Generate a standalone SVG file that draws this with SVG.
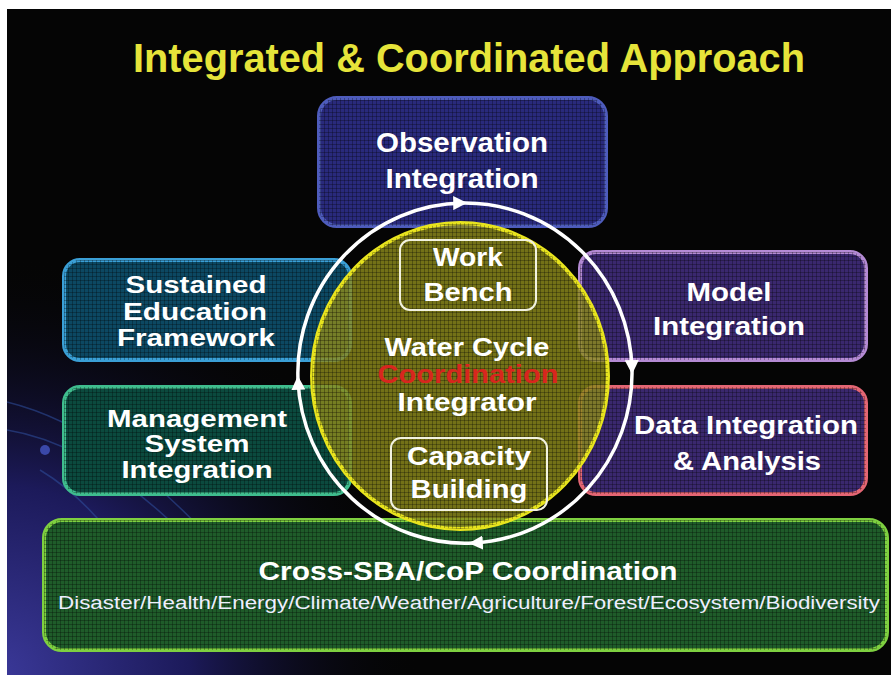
<svg xmlns="http://www.w3.org/2000/svg" width="891" height="675" viewBox="0 0 891 675">
<defs>
<style>
.t{font-family:"Liberation Sans",Arial,sans-serif;font-weight:bold;fill:#fff;text-anchor:middle;}
.box{stroke-width:4;}
.grid{fill:url(#grid);}
.inner{fill:none;stroke:#f2f2e0;stroke-width:2;}
.ring{fill:none;stroke:#fff;stroke-width:3.5;}
</style>
<radialGradient id="glow" cx="0" cy="675" r="420" gradientUnits="userSpaceOnUse">
<stop offset="0" stop-color="#3a3898"/>
<stop offset="0.45" stop-color="#1c1a5a"/>
<stop offset="1" stop-color="#050505" stop-opacity="0"/>
</radialGradient>
<pattern id="grid" width="4" height="4" patternUnits="userSpaceOnUse">
<path d="M0 0.5H4M0.5 0V4" stroke="#000" stroke-opacity="0.28" stroke-width="1"/>
</pattern>
<marker id="arr" viewBox="0 0 10 10" refX="7" refY="5" markerWidth="14" markerHeight="14" markerUnits="userSpaceOnUse" orient="auto">
<path d="M0,0 L10,5 L0,10 z" fill="#fff"/>
</marker>
</defs>
<rect width="891" height="675" fill="#fff"/>
<rect x="7" y="9" width="884" height="666" fill="#050505"/>
<rect x="7" y="9" width="884" height="666" fill="url(#glow)"/>
<g fill="none" stroke="#3050a0" stroke-opacity="0.55" stroke-width="1.5">
<path d="M7,402 C80,420 150,470 230,560"/>
<path d="M7,430 C70,440 130,480 190,540"/>
<path d="M40,470 C90,500 140,560 170,640"/>
</g>
<circle cx="45" cy="450" r="5" fill="#3a48a8"/>
<text class="t" x="469" y="72" font-size="40" textLength="672" lengthAdjust="spacingAndGlyphs" style="fill:#e6e43a">Integrated &amp; Coordinated Approach</text>

<g id="observation">
<rect class="box" x="319" y="98" width="287" height="128" rx="18" fill="#292a7c" stroke="#4e5cbc"/>
<rect class="grid" x="319" y="98" width="287" height="128" rx="18"/>
<text class="t" x="462" y="152" font-size="27" textLength="172" lengthAdjust="spacingAndGlyphs">Observation</text>
<text class="t" x="462" y="188" font-size="27" textLength="153" lengthAdjust="spacingAndGlyphs">Integration</text>
</g>
<g id="education">
<rect class="box" x="64" y="260" width="286" height="100" rx="16" fill="#0c4862" stroke="#3a9fd6"/>
<rect class="grid" x="64" y="260" width="286" height="100" rx="16"/>
<text class="t" x="196" y="293" font-size="24" textLength="141" lengthAdjust="spacingAndGlyphs">Sustained</text>
<text class="t" x="195" y="320" font-size="24" textLength="144" lengthAdjust="spacingAndGlyphs">Education</text>
<text class="t" x="196" y="346" font-size="24" textLength="158" lengthAdjust="spacingAndGlyphs">Framework</text>
</g>
<g id="management">
<rect class="box" x="64" y="387" width="286" height="107" rx="16" fill="#0b4a3e" stroke="#3fbd8e"/>
<rect class="grid" x="64" y="387" width="286" height="107" rx="16"/>
<text class="t" x="197" y="427" font-size="24" textLength="180" lengthAdjust="spacingAndGlyphs">Management</text>
<text class="t" x="197" y="452" font-size="24" textLength="105" lengthAdjust="spacingAndGlyphs">System</text>
<text class="t" x="197" y="478" font-size="24" textLength="151" lengthAdjust="spacingAndGlyphs">Integration</text>
</g>
<g id="model">
<rect class="box" x="580" y="252" width="286" height="108" rx="16" fill="#3a286e" stroke="#b48ad4"/>
<rect class="grid" x="580" y="252" width="286" height="108" rx="16"/>
<text class="t" x="729" y="301" font-size="26" textLength="85" lengthAdjust="spacingAndGlyphs">Model</text>
<text class="t" x="729" y="335" font-size="26" textLength="152" lengthAdjust="spacingAndGlyphs">Integration</text>
</g>
<g id="data">
<rect class="box" x="580" y="387" width="286" height="107" rx="16" fill="#3a286e" stroke="#e46674"/>
<rect class="grid" x="580" y="387" width="286" height="107" rx="16"/>
<text class="t" x="746" y="434" font-size="26" textLength="224" lengthAdjust="spacingAndGlyphs">Data Integration</text>
<text class="t" x="747" y="470" font-size="26" textLength="148" lengthAdjust="spacingAndGlyphs">&amp; Analysis</text>
</g>
<g id="crosssba">
<rect class="box" x="44" y="520" width="843" height="130" rx="18" fill="#1f5c2a" stroke="#7ed040"/>
<rect class="grid" x="44" y="520" width="843" height="130" rx="18"/>
<text class="t" x="468" y="580" font-size="25" textLength="419" lengthAdjust="spacingAndGlyphs">Cross-SBA/CoP Coordination</text>
<text class="t" x="469" y="609" font-size="18" textLength="822" lengthAdjust="spacingAndGlyphs" style="font-weight:normal;fill:#eef">Disaster/Health/Energy/Climate/Weather/Agriculture/Forest/Ecosystem/Biodiversity</text>
</g>

<g id="integrator">
<ellipse cx="460" cy="376" rx="148" ry="153" fill="#8c8a1c" fill-opacity="0.82" stroke="#e8e41e" stroke-width="4"/>
<ellipse class="grid" cx="460" cy="376" rx="148" ry="153"/>
<text class="t" x="467" y="356" font-size="25" textLength="165" lengthAdjust="spacingAndGlyphs">Water Cycle</text>
<text class="t" x="468" y="383" font-size="25" textLength="181" lengthAdjust="spacingAndGlyphs" style="fill:#d8261e">Coordination</text>
<text class="t" x="467" y="411" font-size="25" textLength="139" lengthAdjust="spacingAndGlyphs">Integrator</text>
</g>
<g id="workbench">
<rect class="inner" x="400" y="240" width="136" height="70" rx="10"/>
<text class="t" x="468" y="266" font-size="26" textLength="70" lengthAdjust="spacingAndGlyphs">Work</text>
<text class="t" x="468" y="301" font-size="26" textLength="89" lengthAdjust="spacingAndGlyphs">Bench</text>
</g>
<g id="capacity">
<rect class="inner" x="391" y="438" width="156" height="72" rx="10"/>
<text class="t" x="469" y="465" font-size="26" textLength="124" lengthAdjust="spacingAndGlyphs">Capacity</text>
<text class="t" x="469" y="498" font-size="26" textLength="117" lengthAdjust="spacingAndGlyphs">Building</text>
</g>

<g id="connectors">
<path class="ring" d="M298,380 A167 170 0 0 1 463,203" marker-end="url(#arr)"/>
<path class="ring" d="M463,203 A167 170 0 0 1 632,370" marker-end="url(#arr)"/>
<path class="ring" d="M632,370 A167 170 0 0 1 473,543" marker-end="url(#arr)"/>
<path class="ring" d="M473,543 A167 170 0 0 1 298,380" marker-end="url(#arr)"/>
</g>
</svg>
